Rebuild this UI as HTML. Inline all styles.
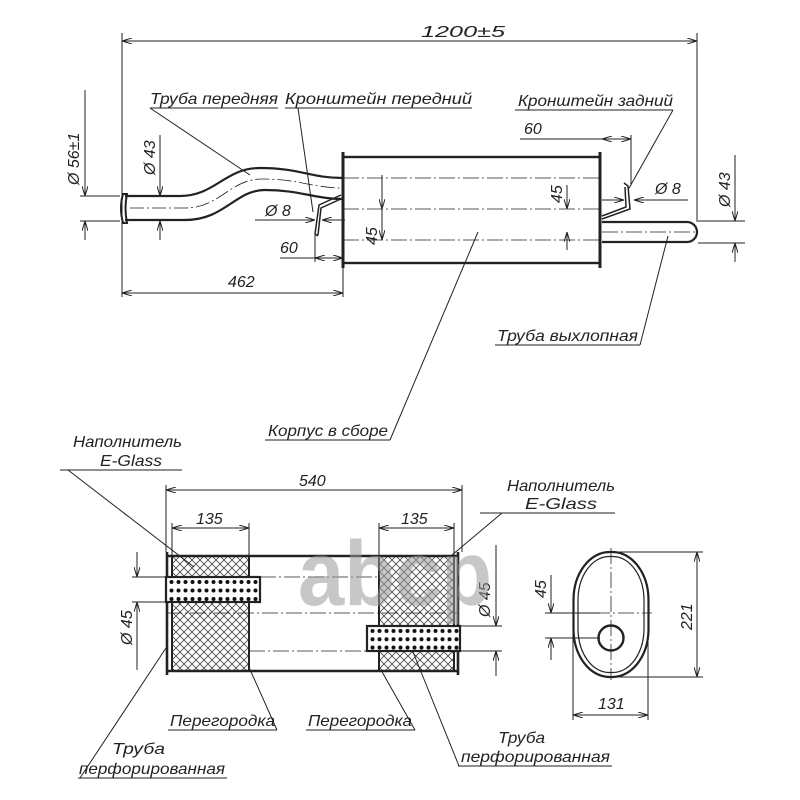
<!DOCTYPE html>
<html><head><meta charset="utf-8"><style>
html,body{margin:0;padding:0;background:#fff;}
svg{display:block;}
text{font-family:"Liberation Sans",sans-serif;font-style:italic;fill:#222;}
</style></head><body>
<svg width="800" height="800" viewBox="0 0 800 800" xmlns="http://www.w3.org/2000/svg">
<defs>
<marker id="a" viewBox="0 0 10 6" refX="10" refY="3" markerWidth="10" markerHeight="6" orient="auto-start-reverse" markerUnits="userSpaceOnUse"><path d="M0,0 L10,3 L0,6" fill="none" stroke="#222" stroke-width="1"/></marker>
<pattern id="hatch" width="8" height="8" patternUnits="userSpaceOnUse"><rect width="8" height="8" fill="#fff"/><path d="M0,0 L8,8 M8,0 L0,8" stroke="#444" stroke-width="0.8"/></pattern>
<pattern id="dots" width="7" height="8.5" patternUnits="userSpaceOnUse" x="168" y="578"><rect width="7" height="8.5" fill="#fff"/><circle cx="3.5" cy="4" r="2" fill="#111"/></pattern>
<pattern id="dots2" width="7" height="8.3" patternUnits="userSpaceOnUse" x="369" y="627"><rect width="7" height="8.3" fill="#fff"/><circle cx="3.5" cy="4" r="2" fill="#111"/></pattern>
</defs>

<g stroke="#222" stroke-width="1" fill="none">
<line x1="122" y1="33" x2="122" y2="297"/>
<line x1="697" y1="33" x2="697" y2="222"/>
<line x1="122" y1="41" x2="697" y2="41" marker-start="url(#a)" marker-end="url(#a)"/>

<path d="M125,196 L180,196 C215,196 225,168 260,168 C300,168 310,178 343,178" stroke-width="2.2"/>
<path d="M125,220 L185,220 C225,220 235,190 265,190 C300,190 315,199 343,199" stroke-width="2.2"/>
<path d="M123,194 Q119,208 123,223 L127,223 Q124,208 127,194 Z" stroke-width="2"/>
<path d="M130,208 L185,208 C220,208 230,179 262,179 C300,179 312,188 343,188" stroke-dasharray="14,3,2,3" stroke-width="0.8"/>

<rect x="343" y="157" width="257" height="106" stroke-width="2.4"/>
<line x1="343" y1="152" x2="343" y2="268" stroke-width="3"/>
<line x1="600" y1="152" x2="600" y2="268" stroke-width="3"/>
<g stroke-dasharray="16,3,2,3" stroke-width="0.8">
<line x1="343" y1="178" x2="600" y2="178"/>
<line x1="343" y1="209" x2="600" y2="209"/>
<line x1="343" y1="240" x2="600" y2="240"/>
<line x1="602" y1="232" x2="695" y2="232"/>
</g>
<path d="M602,222 L687,222 A10,10 0 0 1 687,242 L602,242" stroke-width="2.2"/>

<path d="M343,198 L321,208 L318,235 M341,195 L319,205 L315,234 L318,236" stroke-width="1.5"/>
<path d="M602,219 L630,209 L628,186 L624,183 M602,216 L626,207 L625,187" stroke-width="1.5"/>

<line x1="80" y1="196" x2="120" y2="196"/>
<line x1="80" y1="221" x2="120" y2="221"/>
<line x1="85" y1="90" x2="85" y2="196" marker-end="url(#a)"/>
<line x1="85" y1="240" x2="85" y2="221" marker-end="url(#a)"/>
<line x1="160" y1="135" x2="160" y2="196" marker-end="url(#a)"/>
<line x1="160" y1="240" x2="160" y2="221" marker-end="url(#a)"/>
<line x1="122" y1="293" x2="343" y2="293" marker-start="url(#a)" marker-end="url(#a)"/>
<line x1="343" y1="265" x2="343" y2="297"/>
<line x1="280" y1="258" x2="315" y2="258"/>
<line x1="315" y1="258" x2="343" y2="258" marker-start="url(#a)" marker-end="url(#a)"/>
<line x1="315" y1="235" x2="315" y2="262"/>
<line x1="255" y1="220" x2="315" y2="220" marker-end="url(#a)"/>
<line x1="345" y1="220" x2="322" y2="220" marker-end="url(#a)"/>
<line x1="382" y1="175" x2="382" y2="209" marker-end="url(#a)"/>
<line x1="382" y1="240" x2="382" y2="209" marker-start="url(#a)"/>
<line x1="567" y1="185" x2="567" y2="209" marker-end="url(#a)"/>
<line x1="567" y1="250" x2="567" y2="232" marker-end="url(#a)"/>
<line x1="520" y1="139" x2="602" y2="139"/>
<line x1="602" y1="139" x2="631" y2="139" marker-start="url(#a)" marker-end="url(#a)"/>
<line x1="631" y1="135" x2="631" y2="185"/>
<line x1="602" y1="200" x2="624" y2="200" marker-end="url(#a)"/>
<line x1="688" y1="200" x2="634" y2="200" marker-end="url(#a)"/>
<line x1="698" y1="221" x2="745" y2="221"/>
<line x1="698" y1="243" x2="745" y2="243"/>
<line x1="735" y1="155" x2="735" y2="221" marker-end="url(#a)"/>
<line x1="735" y1="262" x2="735" y2="243" marker-end="url(#a)"/>

<line x1="150" y1="108" x2="278" y2="108"/>
<line x1="150" y1="108" x2="250" y2="175"/>
<line x1="285" y1="108" x2="472" y2="108"/>
<line x1="298" y1="108" x2="313" y2="212"/>
<line x1="515" y1="110" x2="673" y2="110"/>
<line x1="673" y1="110" x2="628" y2="190"/>
<line x1="495" y1="345" x2="640" y2="345"/>
<line x1="640" y1="345" x2="668" y2="236"/>
<line x1="265" y1="440" x2="390" y2="440"/>
<line x1="390" y1="440" x2="478" y2="232"/>

<rect x="172" y="556" width="77" height="115" fill="url(#hatch)" stroke-width="2"/>
<rect x="379" y="556" width="75" height="115" fill="url(#hatch)" stroke-width="2"/>
<line x1="166" y1="556" x2="459" y2="556" stroke-width="2.4"/>
<line x1="166" y1="671" x2="459" y2="671" stroke-width="2.4"/>
<line x1="167" y1="552" x2="167" y2="675" stroke-width="2.6"/>
<line x1="458" y1="552" x2="458" y2="675" stroke-width="2.6"/>
<rect x="166" y="577" width="94" height="25" fill="url(#dots)" stroke-width="2.2"/>
<rect x="367" y="626" width="93" height="25" fill="url(#dots2)" stroke-width="2.2"/>
<g stroke-dasharray="16,3,2,3" stroke-width="0.8">
<line x1="260" y1="577" x2="379" y2="577"/>
<line x1="166" y1="613" x2="459" y2="613"/>
<line x1="249" y1="651" x2="367" y2="651"/>
</g>
<line x1="166" y1="485" x2="166" y2="552"/>
<line x1="462" y1="485" x2="462" y2="552"/>
<line x1="166" y1="490" x2="462" y2="490" marker-start="url(#a)" marker-end="url(#a)"/>
<line x1="172" y1="523" x2="172" y2="556"/>
<line x1="249" y1="523" x2="249" y2="556"/>
<line x1="172" y1="528" x2="249" y2="528" marker-start="url(#a)" marker-end="url(#a)"/>
<line x1="379" y1="523" x2="379" y2="556"/>
<line x1="454" y1="523" x2="454" y2="556"/>
<line x1="379" y1="528" x2="454" y2="528" marker-start="url(#a)" marker-end="url(#a)"/>
<line x1="132" y1="577" x2="166" y2="577"/>
<line x1="132" y1="602" x2="166" y2="602"/>
<line x1="137" y1="552" x2="137" y2="577" marker-end="url(#a)"/>
<line x1="137" y1="670" x2="137" y2="602" marker-end="url(#a)"/>
<line x1="460" y1="626" x2="502" y2="626"/>
<line x1="460" y1="651" x2="502" y2="651"/>
<line x1="496" y1="545" x2="496" y2="626" marker-end="url(#a)"/>
<line x1="496" y1="676" x2="496" y2="651" marker-end="url(#a)"/>

<rect x="573.5" y="552" width="75" height="125" rx="36" ry="48" stroke-width="2.2"/>
<rect x="578" y="556.5" width="66" height="116" rx="31" ry="44" stroke-width="1.2"/>
<circle cx="611" cy="638" r="12.5" stroke-width="2.4"/>
<g stroke-dasharray="16,3,2,3" stroke-width="0.8">
<line x1="611" y1="548" x2="611" y2="680"/>
<line x1="570" y1="613" x2="652" y2="613"/>
</g>
<line x1="545" y1="613" x2="600" y2="613"/>
<line x1="545" y1="638" x2="600" y2="638"/>
<line x1="551" y1="575" x2="551" y2="613" marker-end="url(#a)"/>
<line x1="551" y1="660" x2="551" y2="638" marker-end="url(#a)"/>
<line x1="612" y1="552" x2="703" y2="552"/>
<line x1="612" y1="677" x2="703" y2="677"/>
<line x1="697" y1="552" x2="697" y2="677" marker-start="url(#a)" marker-end="url(#a)"/>
<line x1="573" y1="616" x2="573" y2="720"/>
<line x1="648" y1="616" x2="648" y2="720"/>
<line x1="573" y1="715" x2="648" y2="715" marker-start="url(#a)" marker-end="url(#a)"/>

<line x1="60" y1="470" x2="182" y2="470"/>
<line x1="68" y1="470" x2="194" y2="567"/>
<line x1="480" y1="513" x2="615" y2="513"/>
<line x1="502" y1="513" x2="452" y2="555"/>
<line x1="168" y1="730" x2="277" y2="730"/>
<line x1="277" y1="730" x2="248" y2="665"/>
<line x1="306" y1="730" x2="415" y2="730"/>
<line x1="415" y1="730" x2="381" y2="670"/>
<line x1="78" y1="778" x2="227" y2="778"/>
<line x1="80" y1="778" x2="166" y2="648"/>
<line x1="458" y1="766" x2="612" y2="766"/>
<line x1="459" y1="766" x2="413" y2="652"/>
</g>

<g font-size="16" lengthAdjust="spacingAndGlyphs">
<text x="421" y="37" textLength="84" lengthAdjust="spacingAndGlyphs">1200±5</text>
<text x="150" y="104" textLength="128" lengthAdjust="spacingAndGlyphs">Труба передняя</text>
<text x="285" y="104" textLength="187" lengthAdjust="spacingAndGlyphs">Кронштейн передний</text>
<text x="518" y="106" textLength="155" lengthAdjust="spacingAndGlyphs">Кронштейн задний</text>
<text x="524" y="134">60</text>
<text x="655" y="194">Ø 8</text>
<text x="265" y="216">Ø 8</text>
<text x="280" y="253">60</text>
<text x="228" y="287">462</text>
<text x="497" y="341" textLength="141" lengthAdjust="spacingAndGlyphs">Труба выхлопная</text>
<text x="268" y="436" textLength="120" lengthAdjust="spacingAndGlyphs">Корпус в сборе</text>
<text transform="translate(79,185) rotate(-90)">Ø 56±1</text>
<text transform="translate(155,175) rotate(-90)">Ø 43</text>
<text transform="translate(377,245) rotate(-90)">45</text>
<text transform="translate(562,203) rotate(-90)">45</text>
<text transform="translate(730,207) rotate(-90)">Ø 43</text>

<text x="73" y="447" textLength="109" lengthAdjust="spacingAndGlyphs">Наполнитель</text>
<text x="100" y="466" textLength="62" lengthAdjust="spacingAndGlyphs">E-Glass</text>
<text x="299" y="486">540</text>
<text x="196" y="524">135</text>
<text x="401" y="524">135</text>
<text x="507" y="491" textLength="108" lengthAdjust="spacingAndGlyphs">Наполнитель</text>
<text x="525" y="509" textLength="72" lengthAdjust="spacingAndGlyphs">E-Glass</text>
<text transform="translate(132,645) rotate(-90)">Ø 45</text>
<text transform="translate(490,617) rotate(-90)">Ø 45</text>
<text transform="translate(546,598) rotate(-90)">45</text>
<text transform="translate(692,630) rotate(-90)">221</text>
<text x="598" y="709">131</text>
<text x="170" y="726" textLength="105" lengthAdjust="spacingAndGlyphs">Перегородка</text>
<text x="308" y="726" textLength="104" lengthAdjust="spacingAndGlyphs">Перегородка</text>
<text x="112" y="754" textLength="53" lengthAdjust="spacingAndGlyphs">Труба</text>
<text x="79" y="774" textLength="146" lengthAdjust="spacingAndGlyphs">перфорированная</text>
<text x="498" y="743" textLength="47" lengthAdjust="spacingAndGlyphs">Труба</text>
<text x="461" y="762" textLength="149" lengthAdjust="spacingAndGlyphs">перфорированная</text>
</g>

<text x="298" y="605" font-size="92" font-weight="bold" textLength="194" lengthAdjust="spacingAndGlyphs" style="font-style:normal;fill:#9a9a9a;opacity:0.55">abcp</text>
</svg>
</body></html>
